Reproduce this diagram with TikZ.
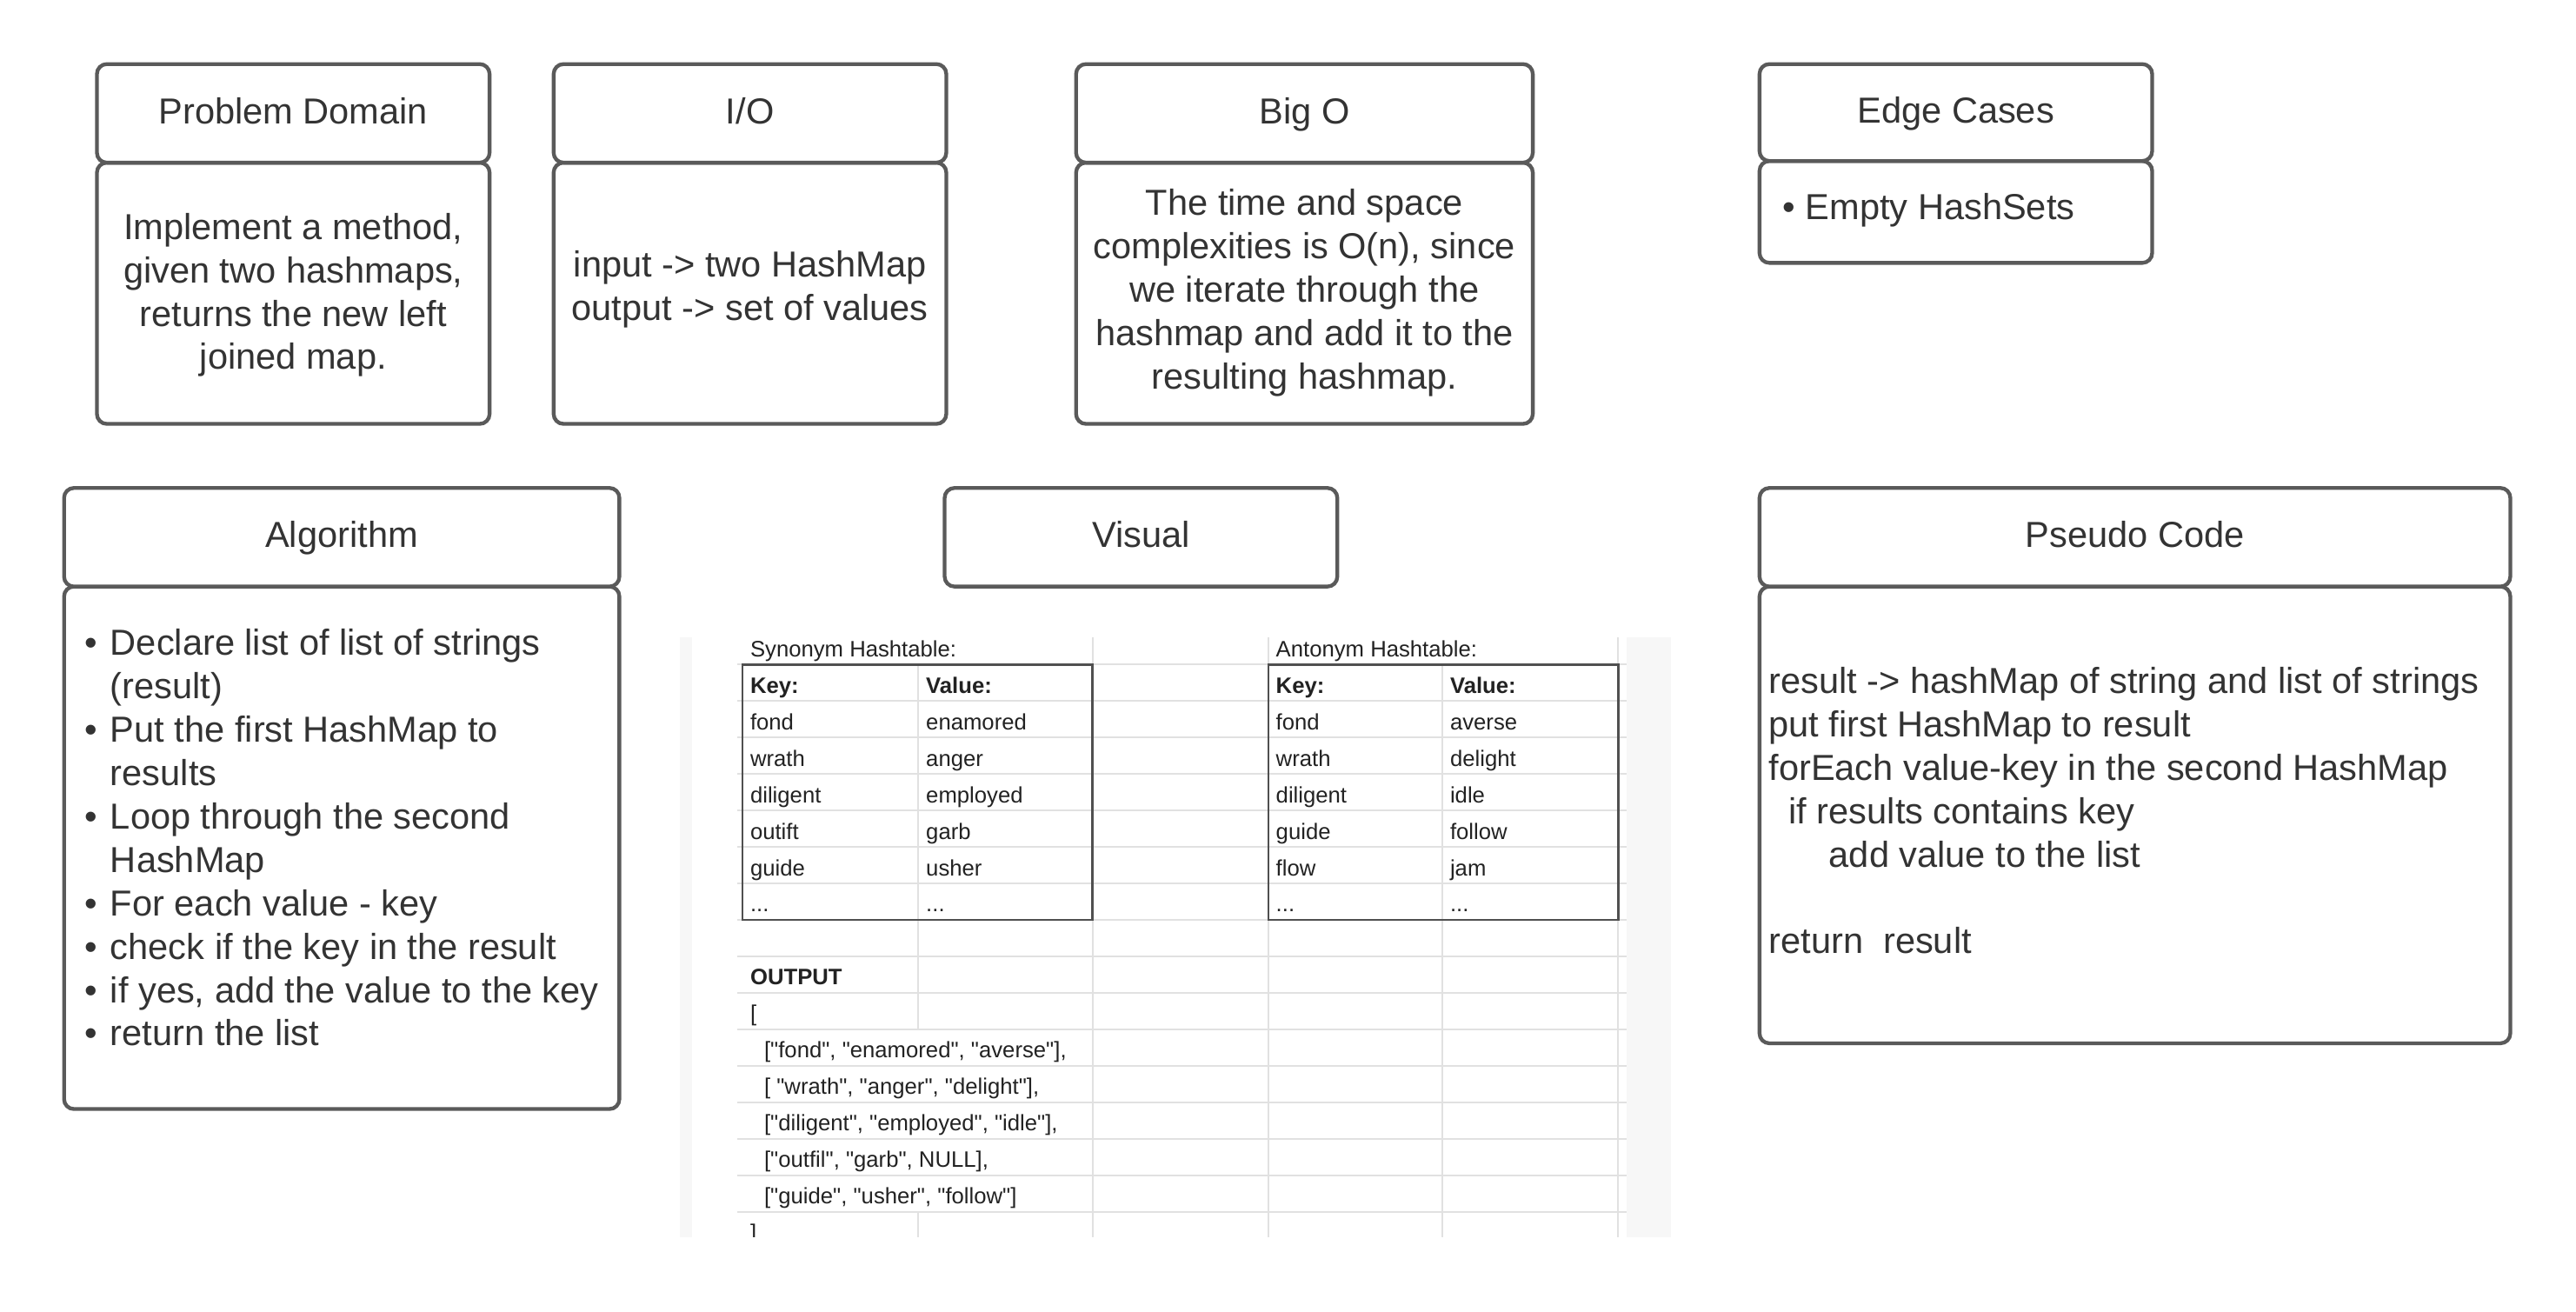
\documentclass[tikz,border=0pt]{standalone}
\usepackage{fontspec}
\setmainfont{Liberation Sans}
\newfontfamily\cellfont{Liberation Sans}
\definecolor{boxline}{HTML}{5A5A5A}
\definecolor{txt}{HTML}{333333}
\definecolor{gridcol}{HTML}{E1E1E1}
\definecolor{thickcol}{HTML}{505050}
\definecolor{sheetbg}{HTML}{F7F7F7}
\definecolor{cellcol}{HTML}{222222}
\newcommand{\tripledot}{...}
\tikzset{
  panel/.style={draw=boxline, line width=2.3pt, rounded corners=6pt, fill=white,
    font=\fontsize{22}{26.4}\selectfont, text=txt, inner sep=0pt,
    text height=19.5pt, text depth=6.9pt},
  bodytext/.style={font=\fontsize{22}{26.4}\selectfont, text=txt, inner sep=0pt},
  cell/.style={font=\cellfont\fontsize{13.6}{16}\selectfont, text=cellcol, inner sep=0pt, anchor=base west},
  boldcell/.style={cell, font=\cellfont\fontsize{13.6}{16}\selectfont\bfseries},
  gridline/.style={draw=gridcol, line width=1.0pt},
  tableborder/.style={draw=thickcol, line width=1.3pt}
}
\begin{document}
\begin{tikzpicture}[x=1pt,y=-1pt]
\useasboundingbox (0,0) rectangle (1568,798.5);
\fill[white] (0,0) rectangle (1568,798.5);

% ---------- row 1 ----------
\node[panel, minimum width=239pt, minimum height=159pt] (pdb) at (178.5,178.5) {};
\node[panel, minimum width=239pt, minimum height=60pt] (pdh) at (178.5,69) {Problem Domain};
\node[bodytext, align=center] (pdt) at (178.5,180) {\strut Implement a method,\\given two hashmaps,\\returns the new left\\joined map.\strut};

\node[panel, minimum width=239pt, minimum height=159pt] (iob) at (456.5,178.5) {};
\node[panel, minimum width=239pt, minimum height=60pt] (ioh) at (456.5,69) {I/O};
\node[bodytext, align=center] (iot) at (456.5,176.5) {\strut input -> two HashMap\\output -> set of values\strut};

\node[panel, minimum width=278pt, minimum height=159pt] (bob) at (794,178.5) {};
\node[panel, minimum width=278pt, minimum height=60pt] (boh) at (794,69) {Big O};
\node[bodytext, align=center] (bot) at (794,178.5) {\strut The time and space\\complexities is O(n), since\\we iterate through the\\hashmap and add it to the\\resulting hashmap.\strut};

\node[panel, minimum width=239pt, minimum height=62pt] (ecb) at (1190.5,129) {};
\node[panel, minimum width=239pt, minimum height=59pt] (ech) at (1190.5,68.5) {Edge Cases};
\node[bodytext, anchor=west] (ect) at (1085,128.5) {\strut •\ Empty HashSets\strut};

% ---------- row 2 ----------
\node[panel, minimum width=338pt, minimum height=318pt] (alb) at (208,516) {};
\node[panel, minimum width=338pt, minimum height=60pt] (alh) at (208,327) {Algorithm};
\node[bodytext, align=left, anchor=west] (alt) at (51.5,512.5) {%
\strut\makebox[15.5pt][l]{•}Declare list of list of strings\\
\strut\hspace*{15.5pt}(result)\\
\strut\makebox[15.5pt][l]{•}Put the first HashMap to\\
\strut\hspace*{15.5pt}results\\
\strut\makebox[15.5pt][l]{•}Loop through the second\\
\strut\hspace*{15.5pt}HashMap\\
\strut\makebox[15.5pt][l]{•}For each value - key\\
\strut\makebox[15.5pt][l]{•}check if the key in the result\\
\strut\makebox[15.5pt][l]{•}if yes, add the value to the key\\
\strut\makebox[15.5pt][l]{•}return the list\strut};

\node[panel, minimum width=239pt, minimum height=60pt] (vih) at (694.5,327) {Visual};

\node[panel, minimum width=457pt, minimum height=278pt] (psb) at (1299.5,496) {};
\node[panel, minimum width=457pt, minimum height=60pt] (psh) at (1299.5,327) {Pseudo Code};
\node[bodytext, align=left, anchor=west] (pst) at (1076.5,496) {%
\strut result -> hashMap of string and list of strings\\
\strut put first HashMap to result\\
\strut forEach value-key in the second HashMap\\
\strut\hspace*{12.2pt}if results contains key\\
\strut\hspace*{36.6pt}add value to the list\\
\strut\\
\strut return\hspace*{12.2pt}result\strut};

% ---------- spreadsheet picture ----------
\fill[sheetbg] (414,388) rectangle (1017,753);
\fill[white] (421,388) rectangle (990,753);
\begin{scope}
\clip (421,388) rectangle (990,753);
% horizontal grid lines
\foreach \k in {0,1,2,3,4,5,6,7,8,9,10,11,12,13,14,15} {
  \draw[gridline] (449,404.5+22.2*\k) -- (990,404.5+22.2*\k);
}
% vertical grid lines
\draw[gridline] (559,404.5) -- (559,626.5);
\draw[gridline] (559,737.5) -- (559,753);
\draw[gridline] (665,388) -- (665,753);
\draw[gridline] (772,388) -- (772,753);
\draw[gridline] (878,404.5) -- (878,753);
\draw[gridline] (985,388) -- (985,753);
% table borders
\draw[tableborder] (452,404.5) rectangle (665,559.9);
\draw[tableborder] (772,404.5) rectangle (985,559.9);
% titles
\node[cell] (syn) at (456.5,399.7) {Synonym Hashtable:};
\node[cell] (ant) at (776.5,399.7) {Antonym Hashtable:};
\node[boldcell] (sk) at (456.5,421.9) {Key:};
\node[boldcell] (sv) at (563.5,421.9) {Value:};
\node[boldcell] (ak) at (776.5,421.9) {Key:};
\node[boldcell] (av) at (882.5,421.9) {Value:};
\foreach \a/\b/\c/\d [count=\i] in {fond/enamored/fond/averse, wrath/anger/wrath/delight, diligent/employed/diligent/idle, outift/garb/guide/follow, guide/usher/flow/jam, \tripledot/\tripledot/\tripledot/\tripledot} {
  \node[cell] (sa\i) at (456.5,421.9+22.2*\i) {\a};
  \node[cell] (sb\i) at (563.5,421.9+22.2*\i) {\b};
  \node[cell] (aa\i) at (776.5,421.9+22.2*\i) {\c};
  \node[cell] (ab\i) at (882.5,421.9+22.2*\i) {\d};
}
\node[boldcell] (out) at (456.5,599.5) {OUTPUT};
\node[cell] (ob) at (456.5,621.7) {[};
\node[cell] (o1) at (465,643.9) {["fond", "enamored", "averse"],};
\node[cell] (o2) at (465,666.1) {[ "wrath", "anger", "delight"],};
\node[cell] (o3) at (465,688.3) {["diligent", "employed", "idle"],};
\node[cell] (o4) at (465,710.5) {["outfil", "garb", NULL],};
\node[cell] (o5) at (465,732.7) {["guide", "usher", "follow"]};
\node[cell] (oe) at (456.5,754.9) {]};
\end{scope}
\end{tikzpicture}
\end{document}
